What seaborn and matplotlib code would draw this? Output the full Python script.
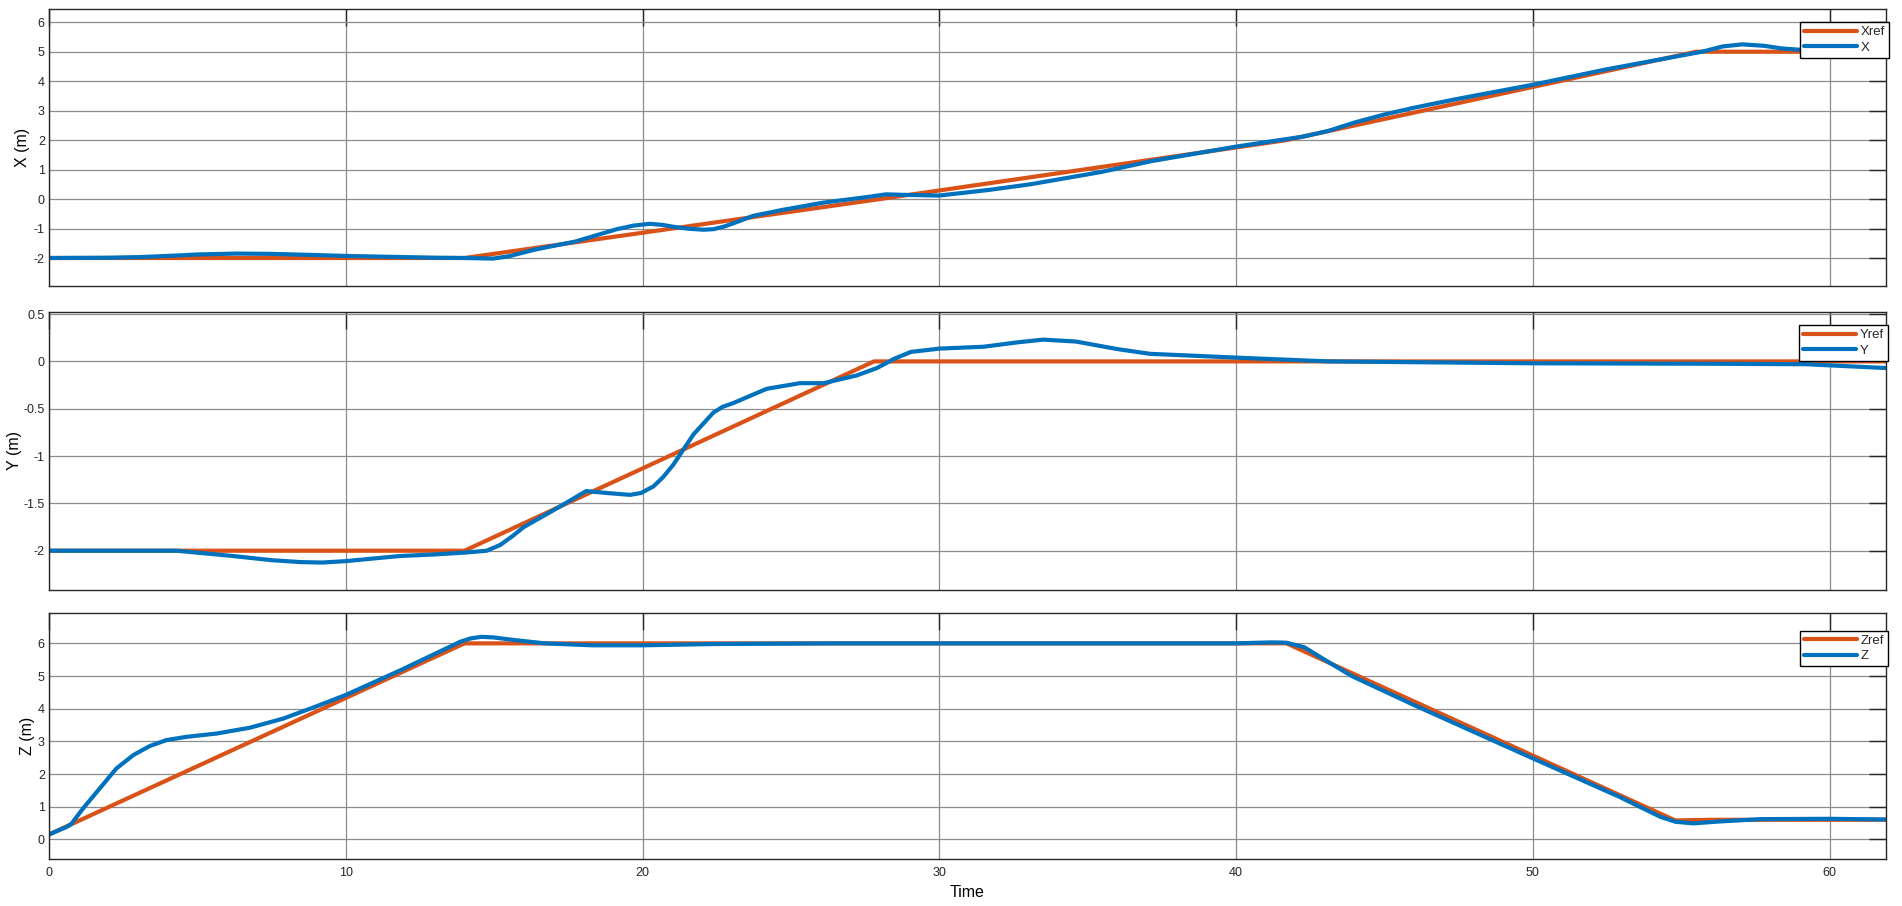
import matplotlib
matplotlib.use("Agg")
import matplotlib.pyplot as plt
import seaborn as sns

# ---------------- data ----------------
t_xref = [0, 14, 28, 41.7, 55.5, 61.9]
xref = [-2.0, -2.0, 0.0, 2.0, 5.0, 5.0]

t_x = [0, 2, 3, 4, 5, 6.3, 7.5, 9, 10, 11.5, 13, 14, 14.96, 15.5, 16.35, 17.74,
       19.14, 19.7, 20.25, 20.7, 21.1, 21.6, 22.06, 22.4, 22.76, 23.2, 23.73, 24.7,
       26.1, 27.5, 28.2, 28.9, 30, 31.67, 33.06, 35.46, 37.16, 40, 42.26, 43.1, 44,
       45, 46, 47.36, 50, 52.47, 55.7, 56.4, 57.06, 57.8, 58.4, 59.1, 60, 61.9]
x_act = [-2.0, -1.99, -1.97, -1.93, -1.88, -1.85, -1.86, -1.9, -1.93, -1.96, -1.99,
         -2.0, -2.02, -1.94, -1.72, -1.44, -1.02, -0.9, -0.84, -0.88, -0.95, -1.01,
         -1.04, -1.02, -0.93, -0.77, -0.57, -0.37, -0.12, 0.06, 0.16, 0.14, 0.12,
         0.31, 0.5, 0.92, 1.29, 1.78, 2.12, 2.31, 2.6, 2.87, 3.1, 3.38, 3.88, 4.4,
         5.0, 5.18, 5.25, 5.2, 5.11, 5.06, 5.04, 5.04]

t_yref = [0, 14, 27.8, 61.9]
yref = [-2.0, -2.0, 0.0, 0.0]

t_y = [0, 4.3, 6.2, 7.5, 8.46, 9.2, 10, 11, 11.83, 12.95, 14, 14.75, 15.2, 15.6,
       16.0, 16.9, 17.45, 18.1, 18.79, 19.58, 19.95, 20.37, 20.7, 21.04, 21.72,
       22.39, 22.7, 23.06, 24.18, 25.3, 26.1, 27.2, 27.9, 28.5, 29.04, 30, 31.5,
       32.6, 33.5, 34.6, 36, 37.1, 40, 43.1, 50, 56.1, 59.2, 61.9]
y_act = [-2.0, -2.0, -2.056, -2.1, -2.12, -2.125, -2.11, -2.08, -2.056, -2.04,
         -2.02, -2.0, -1.94, -1.85, -1.75, -1.59, -1.49, -1.37, -1.39, -1.41, -1.39,
         -1.32, -1.22, -1.09, -0.77, -0.54, -0.48, -0.44, -0.29, -0.23, -0.23, -0.15,
         -0.07, 0.03, 0.10, 0.135, 0.155, 0.2, 0.23, 0.21, 0.13, 0.08, 0.04, 0.0,
         -0.02, -0.025, -0.03, -0.07]

t_zref = [0, 14, 41.7, 54.8, 56, 61.9]
zref = [0.15, 6.0, 6.0, 0.58, 0.6, 0.6]

t_z = [0, 0.59, 0.75, 1.15, 1.71, 2.27, 2.84, 3.4, 3.96, 4.64, 5.65, 6.78, 7.9,
       9.03, 10, 11.85, 13.86, 14.2, 14.57, 15.0, 15.5, 16.7, 18.3, 20, 22.4, 26.5,
       40, 41.2, 41.7, 42.3, 43.0, 43.9, 46, 50, 52.9, 54.3, 54.8, 55.4, 56.3,
       57.7, 60, 61.9]
z_act = [0.15, 0.38, 0.47, 0.95, 1.56, 2.17, 2.58, 2.86, 3.04, 3.14, 3.24, 3.42,
         3.7, 4.08, 4.42, 5.18, 6.05, 6.15, 6.2, 6.18, 6.12, 6.0, 5.94, 5.94, 5.98,
         6.0, 6.0, 6.03, 6.02, 5.88, 5.49, 5.0, 4.11, 2.48, 1.31, 0.69, 0.54, 0.49,
         0.55, 0.62, 0.63, 0.61]

x_ticks = [0, 10, 20, 30, 40, 50, 60]
ticks_x_axis = [-2, -1, 0, 1, 2, 3, 4, 5, 6]
ticks_y_axis = [-2, -1.5, -1, -0.5, 0, 0.5]
ticks_z_axis = [0, 1, 2, 3, 4, 5, 6]

# ---------------- style ----------------
sns.set_style("white")
plt.rcParams["font.family"] = ["Liberation Sans", "DejaVu Sans"]
plt.rcParams["axes.unicode_minus"] = False

ORANGE = "#D95319"
BLUE = "#0072BD"
DARK = "#262626"

W, H = 1902, 906
fig = plt.figure(figsize=(W / 100, H / 100), dpi=100)

def fx(px):
    return px / W

def fy(py):
    return 1 - py / H

left, right = 49, 1886
boxes = [(9, 286), (311.7, 590), (613.3, 859)]
axes = []
for top, bot in boxes:
    ax = fig.add_axes([fx(left), fy(bot), fx(right) - fx(left), fy(top) - fy(bot)])
    axes.append(ax)

panels = [
    (t_xref, xref, t_x, x_act, "Xref", "X", "X (m)", ticks_x_axis, (-2.95, 6.45), 30),
    (t_yref, yref, t_y, y_act, "Yref", "Y", "Y (m)", ticks_y_axis, (-2.415, 0.525), 22),
    (t_zref, zref, t_z, z_act, "Zref", "Z", "Z (m)", ticks_z_axis, (-0.6, 6.92), 35),
]
legend_anchor = [(1889, 22), (1888, 325), (1888, 630.7)]

for i, (ax, p) in enumerate(zip(axes, panels)):
    tr, r, ta, a, lref, lact, ylab, yt, ylim, labx = p
    sns.lineplot(x=tr, y=r, ax=ax, color=ORANGE, lw=3.0, label=lref, sort=False,
                 estimator=None)
    sns.lineplot(x=ta, y=a, ax=ax, color=BLUE, lw=3.0, label=lact, sort=False,
                 estimator=None)
    ax.set_xlim(0, 61.9)
    ax.set_ylim(*ylim)
    ax.set_xticks(x_ticks)
    ax.set_yticks(yt)
    ax.set_yticklabels([f"{v:g}" for v in yt])
    ax.grid(True, color="#8c8c8c", lw=0.9)
    ax.set_axisbelow(True)
    for s in ax.spines.values():
        s.set_visible(True)
        s.set_color(DARK)
        s.set_linewidth(1.0)
    ax.tick_params(direction="in", length=12.5, width=1.0, color=DARK,
                   top=True, right=True, labelsize=9, labelcolor=DARK)
    ax.tick_params(axis="y", pad=3)
    ax.tick_params(axis="x", pad=6)
    ax.set_ylabel(ylab, fontsize=11.5, color="black")
    ax.yaxis.set_label_coords((labx - left) / (right - left), 0.5)
    if i < 2:
        ax.set_xticklabels([])
        ax.set_xlabel("")
    else:
        ax.set_xticklabels([str(v) for v in x_ticks])
        ax.set_xlabel("Time", fontsize=11.5, color="black", labelpad=4)
    ax_, ay_ = legend_anchor[i]
    leg = ax.legend(loc="upper right", bbox_to_anchor=(fx(ax_), fy(ay_)),
                    bbox_transform=fig.transFigure, fontsize=9.5, frameon=True,
                    fancybox=False, framealpha=1, edgecolor="black",
                    handlelength=4.0, handletextpad=0.3, borderpad=0.3,
                    labelspacing=0.25, borderaxespad=0)
    leg.get_frame().set_linewidth(1.0)
    for line in leg.get_lines():
        line.set_linewidth(3)

fig.savefig("out.png", dpi=100)
